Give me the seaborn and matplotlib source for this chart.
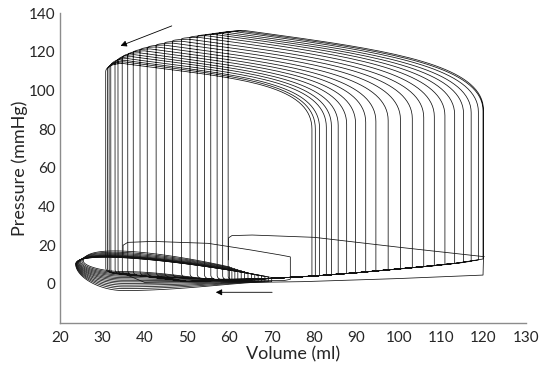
import numpy as np
import pandas as pd
import matplotlib
matplotlib.use("Agg")
import matplotlib.pyplot as plt
import seaborn as sns

# ---------------- data ----------------
# ejecting loops (one entry per beat)
esv = [59.7, 58.4, 57.1, 55.6, 54.1, 52.4, 50.7, 48.7, 46.6, 44.7, 42.7,
       40.6, 38.9, 37.3, 36.0, 34.7, 33.7, 33.0, 32.0, 31.6, 31.2, 30.8]
edv = [120.0, 119.9, 118.8, 117.1, 115.3, 113.2, 110.9, 108.4, 105.9, 103.2, 100.4,
       97.5, 94.6, 92.2, 89.8, 87.7, 85.7, 84.1, 82.9, 81.3, 80.3, 79.5]
p_ed = [13.0, 12.9, 12.4, 11.7, 11.1, 10.6, 10.0, 9.4, 8.8, 8.3, 7.8,
        7.3, 6.7, 6.2, 5.8, 5.4, 5.1, 4.8, 4.6, 4.4, 4.2, 4.1]
p_open = [90, 89.5, 89, 88.5, 88, 87.5, 87, 86.5, 86, 85.5, 85,
          84.5, 84, 83.5, 83, 82.5, 82, 81.5, 81, 80.5, 80.2, 80]
p_peak = [131, 130.8, 130.5, 130, 129.5, 129, 128.3, 127.5, 126.5, 125.5, 124.5,
          123.5, 122.5, 121.5, 120.5, 119.5, 118.5, 117.5, 116.5, 115.5, 114.8, 114]
p_es = [129.5, 129.2, 128.9, 128.6, 128.2, 127.8, 127.4, 126.6, 125.6, 124.5, 123.3,
        122.0, 120.9, 119.5, 118.2, 116.8, 115.3, 114.0, 112.5, 111.5, 110.5, 109.7]
p_min = [1.5, 1.6, 1.8, 2.0, 2.2, 2.4, 2.6, 2.8, 3.0, 3.2, 3.4,
         3.6, 3.8, 4.0, 4.2, 4.4, 4.6, 4.8, 5.0, 5.2, 5.4, 5.6]
# end-diastolic pressure-volume relation (filling band)
edpvr_v = [40, 50, 60, 70, 80, 90, 97, 105, 113.5, 120]
edpvr_p = [0.8, 1.3, 2.0, 2.9, 4.1, 5.8, 7.2, 8.8, 10.7, 13.0]

# small non-ejecting loops
s_vleft = [23.7, 23.75, 23.8, 23.85, 23.9, 24.0, 24.1, 24.2, 24.35, 24.5, 24.7, 24.9, 25.2, 25.5]
s_vright = [70.0, 69.2, 68.4, 67.6, 66.8, 66.0, 65.2, 64.4, 63.6, 62.8, 62.0, 61.3, 60.6, 60.0]
s_prtop = [3.3, 3.6, 3.9, 4.2, 4.5, 4.9, 5.3, 5.8, 6.3, 6.8, 7.3, 7.8, 8.3, 8.8]
s_prbot = [1.2, 1.2, 1.3, 1.3, 1.4, 1.4, 1.5, 1.5, 1.6, 1.7, 1.8, 1.9, 2.0, 2.1]
s_ptop = [15.5, 15.5, 15.6, 15.6, 15.7, 15.7, 15.8, 15.9, 16.0, 16.3, 16.8, 17.5, 18.3, 19.2]
s_pleft = [10.5, 10.5, 10.6, 10.6, 10.7, 10.7, 10.8, 10.9, 11.0, 11.1, 11.3, 11.5, 11.7, 12.0]
s_pbot = [-3.4, -2.4, -1.5, -0.6, 0.3, 1.1, 1.9, 2.6, 3.3, 4.0, 4.6, 5.2, 5.8, 6.4]

# transient traces
tr1_v = [59.8, 59.8, 60.6, 65.4, 80.1, 100.0, 120.2]
tr1_p = [12.4, 23.8, 25.0, 25.3, 24.1, 19.0, 14.1]
tr2_v = [58.0, 68.0, 77.4, 100.0, 119.9, 120.0]
tr2_p = [0.5, 0.9, 1.2, 2.8, 4.6, 13.0]
box_v = [34.9, 34.9, 36.0, 42.0, 55.0, 65.0, 72.0, 74.4, 74.4, 73.0, 60.0]
box_p = [15.0, 20.0, 21.5, 22.0, 21.0, 17.6, 15.0, 14.0, 2.4, 1.8, 1.5]

# arrows (tail -> head)
arr_top = [(46.4, 133.4), (34.3, 123.1)]
arr_bot = [(70.1, -4.3), (56.8, -4.3)]


def bez(p0, p1, p2, p3, n=40):
    t = np.linspace(0, 1, n)[:, None]
    p0, p1, p2, p3 = map(np.asarray, (p0, p1, p2, p3))
    return (1 - t) ** 3 * p0 + 3 * (1 - t) ** 2 * t * p1 + 3 * (1 - t) * t ** 2 * p2 + t ** 3 * p3


rows = []
seg = 0


def add(pts):
    global seg
    pts = np.asarray(pts, dtype=float)
    for k, (v, p) in enumerate(pts):
        rows.append((seg, k, v, p))
    seg += 1


# one continuous trajectory through the ejecting beats
traj = []
n = len(esv)
for i in range(n):
    V0 = esv[i] + 4.0
    D = edv[i] - V0
    traj.append([edv[i], p_ed[i]])
    traj.append([edv[i], p_open[i]])
    top = bez((edv[i], p_open[i]), (edv[i], p_open[i] + 25),
              (V0 + 0.54 * D, p_peak[i] - 0.3 * 0.54 * D), (V0, p_peak[i]))
    traj.extend(top[1:].tolist())
    corner = bez((V0, p_peak[i]), (V0 - 2.2, p_peak[i]),
                 (esv[i], p_es[i] + 0.6 * (p_peak[i] - p_es[i])), (esv[i], p_es[i]), 15)
    traj.extend(corner[1:].tolist())
    low = bez((esv[i], p_min[i] + 3), (esv[i], p_min[i]),
              (esv[i] + 1.5, p_min[i]), (esv[i] + 4, p_min[i]), 15)
    traj.extend(low.tolist())
    nxt = i + 1 if i + 1 < n else i
    for v, p in zip(edpvr_v, edpvr_p):
        if esv[i] + 9 < v < edv[nxt]:
            traj.append([v, p])
    traj.append([edv[nxt], p_ed[nxt]])
add(traj)

# small loops
for vl, vr, prt, prb, pt, pl, pb in zip(s_vleft, s_vright, s_prtop, s_prbot,
                                       s_ptop, s_pleft, s_pbot):
    W = vr - vl
    vb = 35.0
    top = bez((vr, prt), (vr - 0.3 * W, prt + 0.5 * (pt - prt)),
              (vl + 0.02 * W, pt + 3.5), (vl, pl))
    a = bez((vl, pl), (vl, pb + 0.5 * (pl - pb)), (vl + 0.5 * (vb - vl), pb), (vb, pb))
    b = bez((vb, pb), (vb + 0.4 * (vr - vb), pb), (vr - 0.25 * (vr - vb), prb - 0.3), (vr, prb))
    add(np.vstack([top, a[1:], b[1:], [[vr, prt]]]))

add(list(zip(tr1_v, tr1_p)))
add(list(zip(tr2_v, tr2_p)))
add(list(zip(box_v, box_p)))

df = pd.DataFrame(rows, columns=["seg", "k", "V", "P"])

# ---------------- figure ----------------
sns.set_theme(style="white")
plt.rcParams["font.family"] = ["Lato", "DejaVu Sans"]

fig = plt.figure(figsize=(5.5, 3.65), dpi=100)
ax = fig.add_axes([0.109, 0.116, 0.847, 0.848])

sns.lineplot(data=df, x="V", y="P", units="seg", estimator=None, sort=False,
             color="#111111", lw=0.55, legend=False, ax=ax)

for (t, h) in (arr_top, arr_bot):
    ax.annotate("", xy=h, xytext=t,
                arrowprops=dict(arrowstyle="-|>", color="black", lw=0.6,
                                mutation_scale=9, shrinkA=0, shrinkB=0))

ax.set_xlim(20, 130)
ax.set_ylim(-20, 140)
ax.set_xticks(range(20, 131, 10))
ax.set_yticks(range(0, 141, 20))
ax.set_xlabel("Volume (ml)", fontsize=13, color="#262626", labelpad=1)
ax.set_ylabel("Pressure (mmHg)", fontsize=13, color="#262626", labelpad=1)
for s in ("top", "right"):
    ax.spines[s].set_visible(False)
for s in ("left", "bottom"):
    ax.spines[s].set_color("#8c8c8c")
    ax.spines[s].set_linewidth(1.0)
ax.tick_params(axis="both", direction="in", length=3, width=0.8, colors="#8c8c8c",
               labelcolor="#262626", labelsize=11)
ax.tick_params(axis="x", pad=6)
ax.tick_params(axis="y", pad=3)

fig.savefig("out.png", dpi=100)
